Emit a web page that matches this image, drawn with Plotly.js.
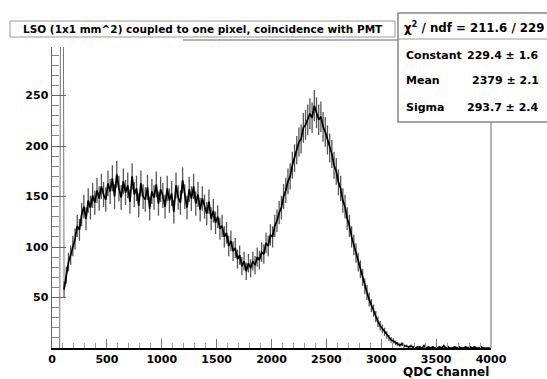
<!DOCTYPE html>
<html>
<head>
<meta charset="utf-8">
<script src="https://cdn.plot.ly/plotly-3.0.1.min.js"></script>
<style>html,body{margin:0;padding:0;background:#fff;}#chart{width:547px;height:379px;}</style>
</head>
<body>
<div id="chart"></div>
<script>
// Histogram: QDC channel, bin width 20, first bin starts at 0
var binStart = 0;
var binWidth = 20;
var counts = [
  0, 0, 0, 0, 900, 58, 72, 85, 92, 101,
  108, 121, 117, 132, 140, 128, 146, 139, 151, 144,
  156, 148, 160, 152, 147, 163, 155, 168, 150, 172,
  158, 149, 165, 154, 161, 145, 170, 152, 158, 141,
  163, 150, 147, 159, 138, 155, 149, 162, 143, 157,
  151, 140, 158, 146, 153, 135, 161, 149, 144, 166,
  150, 139, 157, 148, 160, 143, 152, 137, 148, 140,
  133, 145, 128, 136, 124, 130, 118, 121, 110, 114,
  101, 106, 96, 99, 88, 92, 81, 86, 76, 84,
  79, 86, 82, 90, 87, 95, 93, 104, 101, 112,
  110, 121, 126, 134, 139, 150, 156, 165, 170, 181,
  188, 196, 204, 207, 218, 221, 226, 232, 228, 240,
  233, 226, 229, 219, 214, 206, 198, 192, 181, 175,
  164, 158, 146, 140, 128, 121, 110, 102, 94, 85,
  78, 70, 61, 55, 48, 42, 37, 31, 26, 22,
  19, 16, 13, 10, 8, 7, 5, 4, 3, 4,
  2, 2, 1, 2, 1, 0, 1, 1, 0, 2,
  0, 1, 0, 1, 0, 0, 1, 0, 2, 0,
  1, 0, 0, 1, 0, 1, 0, 0, 1, 0,
  1, 0, 1, 0, 0, 1, 0, 0, 0, 0
];
var pedestalBin = 4;   // index of the pedestal bin (off scale)
var xTicks = [0, 500, 1000, 1500, 2000, 2500, 3000, 3500, 4000];
var yTicks = [50, 100, 150, 200, 250];
var titleText = "LSO (1x1 mm^2) coupled to one pixel, coincidence with PMT";
var xTitle = "QDC channel";
var statLabels = ["Constant", "Mean", "Sigma"];
var statValues = ["229.4 \u00b1 1.6", "2379 \u00b1 2.1", "293.7 \u00b1 2.4"];
var chi2Text = "\u03c7<sup>2</sup> / ndf = 211.6 / 229";

var centers = counts.map(function(_, i){ return binStart + binWidth * (i + 0.5); });

var FONT = 'DejaVu Sans';
var pedTrace = {
  type: 'scatter', mode: 'lines',
  x: centers.slice(pedestalBin - 1, pedestalBin + 2),
  y: counts.slice(pedestalBin - 1, pedestalBin + 2),
  line: {color: '#777', width: 1},
  hoverinfo: 'skip', showlegend: false
};
var trace = {
  type: 'scatter', mode: 'lines',
  x: centers.slice(pedestalBin + 1), y: counts.slice(pedestalBin + 1),
  line: {color: '#000', width: 1.7},
  error_y: {type: 'sqrt', visible: true, color: '#555', thickness: 1.3, width: 0},
  hoverinfo: 'skip', showlegend: false
};

// pixel -> paper helpers (plot area: x 52..491, y 40..348)
function px(x){ return (x - 52) / 439; }
function py(y){ return (348 - y) / 308; }

var annotations = [
  {xref:'paper', yref:'paper', x: px(21), y: py(29), xanchor:'left', yanchor:'middle', showarrow:false,
   text: titleText, font:{family:FONT, size:10.5, color:'#000', weight:'bold'}},
  {xref:'paper', yref:'paper', x: px(402), y: py(27), xanchor:'left', yanchor:'middle', showarrow:false,
   text: chi2Text, font:{family:FONT, size:11.8, color:'#000', weight:'bold'}},
  {xref:'paper', yref:'paper', x: px(491), y: py(372), xanchor:'right', yanchor:'middle', showarrow:false,
   text: xTitle, font:{family:FONT, size:12, color:'#000', weight:'bold'}}
];
var rowY = [55, 81, 107];
statLabels.forEach(function(l, i){
  annotations.push({xref:'paper', yref:'paper', x: px(404), y: py(rowY[i]), xanchor:'left', yanchor:'middle', showarrow:false,
    text: l, font:{family:FONT, size:11, color:'#000', weight:'bold'}});
  annotations.push({xref:'paper', yref:'paper', x: px(541), y: py(rowY[i]), xanchor:'right', yanchor:'middle', showarrow:false,
    text: statValues[i], font:{family:FONT, size:11, color:'#000', weight:'bold'}});
});

var shapes = [
  // right frame line
  {type:'line', xref:'paper', yref:'paper', x0:1, x1:1, y0:0, y1:1, line:{color:'#999', width:1.5}, layer:'above'},
  // top frame line
  {type:'line', xref:'paper', yref:'paper', x0:0, x1:1, y0:1, y1:1, line:{color:'#666', width:1}, layer:'above'},
  // white patch under title box
  {type:'rect', xref:'paper', yref:'paper', x0:px(8), x1:px(183), y0:py(47), y1:py(37), fillcolor:'#fff', line:{width:0}, layer:'above'},
  // title box
  {type:'rect', xref:'paper', yref:'paper', x0:px(10), x1:px(395), y0:py(37), y1:py(21), fillcolor:'#fff', line:{color:'#999', width:1}, layer:'above'},
  // stats box
  {type:'rect', xref:'paper', yref:'paper', x0:px(398), x1:px(552), y0:py(122), y1:py(13), fillcolor:'#fff', line:{color:'#888', width:1.5}, layer:'above'},
  {type:'line', xref:'paper', yref:'paper', x0:px(398), x1:px(552), y0:py(39), y1:py(39), line:{color:'#999', width:1}, layer:'above'}
];

var layout = {
  width: 547, height: 379,
  margin: {l:52, r:56, t:40, b:31},
  paper_bgcolor: '#fff', plot_bgcolor: '#fff',
  showlegend: false,
  xaxis: {
    range: [0, 4000], tickmode: 'array', tickvals: xTicks, ticktext: xTicks.map(String),
    ticks: 'inside', ticklen: 9, tickcolor: '#777', tickwidth: 1,
    minor: {tickmode:'linear', tick0: 0, dtick: 100, ticks:'inside', ticklen: 5, tickcolor:'#999'},
    showline: true, linecolor: '#000', linewidth: 1.5,
    showgrid: false, zeroline: false,
    tickfont: {family: FONT, size: 11, color: '#000', weight: 'bold'}
  },
  yaxis: {
    range: [0, 305], tickmode: 'array', tickvals: yTicks, ticktext: yTicks.map(String),
    ticks: 'inside', ticklen: 14, tickcolor: '#666', tickwidth: 1,
    minor: {tickmode:'linear', tick0: 0, dtick: 10, ticks:'inside', ticklen: 7, tickcolor:'#888'},
    showline: true, linecolor: '#666', linewidth: 1.5,
    showgrid: false, zeroline: false,
    tickfont: {family: FONT, size: 11, color: '#000', weight: 'bold'}
  },
  annotations: annotations,
  shapes: shapes
};

Plotly.newPlot('chart', [pedTrace, trace], layout, {staticPlot: true, displayModeBar: false});
</script>
</body>
</html>
